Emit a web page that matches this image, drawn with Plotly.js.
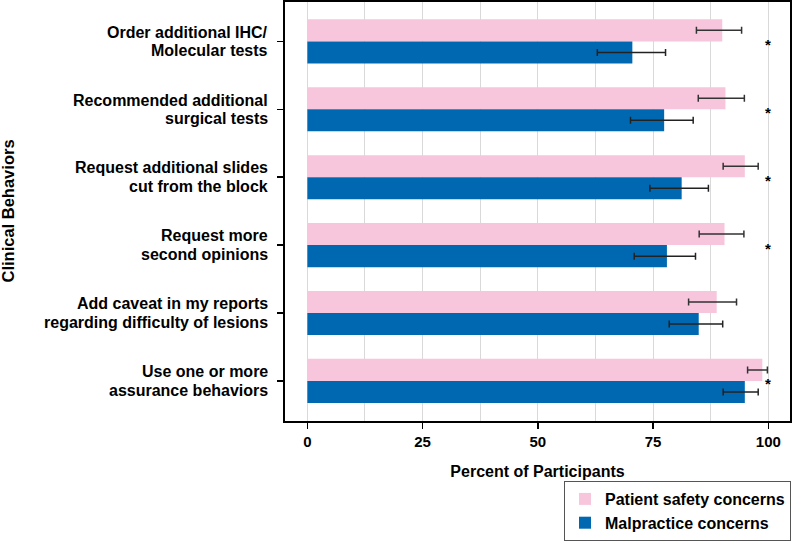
<!DOCTYPE html>
<html>
<head>
<meta charset="utf-8">
<script src="https://cdn.plot.ly/plotly-3.0.1.min.js"></script>
<style>
  html, body { margin: 0; padding: 0; background: #fff; }
  #grafico { width: 792px; height: 542px; }
</style>
</head>
<body>
<div id="grafico"></div>
<script>
// categorias, de cima para baixo
var comportamentos = [
  "Order additional IHC/<br>Molecular tests",
  "Recommended additional<br>surgical tests",
  "Request additional slides<br>cut from the block",
  "Request more<br>second opinions",
  "Add caveat in my reports<br>regarding difficulty of lesions",
  "Use one or more<br>assurance behaviors"
];

// Patient safety concerns (%), com intervalo de confiança
var seguranca = [90.0, 90.7, 94.9, 90.5, 88.8, 98.7];
var segurancaInf = [84.4, 84.8, 90.2, 85.0, 82.7, 95.5];
var segurancaSup = [94.2, 94.8, 97.8, 94.7, 93.1, 99.8];

// Malpractice concerns (%), com intervalo de confiança
var malpratica = [70.5, 77.4, 81.2, 78.0, 84.9, 94.9];
var malpraticaInf = [62.9, 70.1, 74.3, 70.9, 78.5, 90.2];
var malpraticaSup = [77.7, 83.7, 87.0, 84.2, 90.1, 97.8];

// marcador de significância por categoria
var significancia = ["*", "*", "*", "*", "", "*"];

var nomeSeguranca = "Patient safety concerns";
var nomeMalpratica = "Malpractice concerns";

function erroMais(v, sup) {
  return v.map(function (d, i) { return sup[i] - d; });
}
function erroMenos(v, inf) {
  return v.map(function (d, i) { return d - inf[i]; });
}

var fonte = "Liberation Sans, Arial, Helvetica, sans-serif";

var data = [{
  type: 'bar',
  orientation: 'h',
  name: nomeSeguranca,
  y: comportamentos,
  x: seguranca,
  marker: { color: '#f7c6dd' },
  error_x: {
    type: 'data', symmetric: false,
    array: erroMais(seguranca, segurancaSup),
    arrayminus: erroMenos(seguranca, segurancaInf),
    color: '#333333', thickness: 1.5, width: 3.5
  }
}, {
  type: 'bar',
  orientation: 'h',
  name: nomeMalpratica,
  y: comportamentos,
  x: malpratica,
  marker: { color: '#0068b1' },
  error_x: {
    type: 'data', symmetric: false,
    array: erroMais(malpratica, malpraticaSup),
    arrayminus: erroMenos(malpratica, malpraticaInf),
    color: '#222222', thickness: 1.5, width: 3.5
  }
}];

var anotacoes = [];
// rótulos das categorias: uma anotação por linha (entrelinha mais apertada que a do plotly)
var entrelinha = 18.6;
for (var i in comportamentos) {
  var linhas = comportamentos[i].split('<br>');
  for (var j = 0; j < linhas.length; j++) {
    anotacoes.push({
      x: 0, y: comportamentos[i], xref: 'paper', yref: 'y',
      xanchor: 'right', yanchor: 'middle', xshift: -15,
      yshift: ((linhas.length - 1) / 2 - j) * entrelinha,
      text: linhas[j], showarrow: false,
      font: { family: fonte, size: 16, color: '#000', weight: 'bold' }
    });
  }
  if (significancia[i] === "") continue;
  anotacoes.push({
    x: 100, y: comportamentos[i], xref: 'x', yref: 'y',
    text: significancia[i], showarrow: false, yshift: -3,
    font: { family: fonte, size: 15, color: '#000', weight: 'bold' }
  });
}

var layout = {
  width: 792,
  height: 542,
  margin: { l: 285, r: 2, t: 2, b: 121, autoexpand: false },
  paper_bgcolor: '#ffffff',
  plot_bgcolor: '#ffffff',
  barmode: 'group',
  bargap: 0.35,
  bargroupgap: 0,
  showlegend: true,
  font: { family: fonte, color: '#000' },
  xaxis: {
    range: [-4.85, 104.7],
    tickmode: 'array',
    tickvals: [0, 25, 50, 75, 100],
    showgrid: true,
    gridcolor: '#d9d9d9',
    gridwidth: 1,
    minor: { tickvals: [12.5, 37.5, 62.5, 87.5], showgrid: true, gridcolor: '#d9d9d9', gridwidth: 1, ticks: '' },
    zeroline: false,
    showline: true, mirror: true, linecolor: '#000', linewidth: 2,
    ticks: 'outside', ticklen: 6, tickwidth: 1.5, tickcolor: '#000',
    tickfont: { family: fonte, size: 15, weight: 'bold' },
    title: { text: 'Percent of Participants', standoff: 17, font: { family: fonte, size: 16, weight: 'bold' } },
    automargin: false,
    fixedrange: true
  },
  yaxis: {
    type: 'category',
    categoryorder: 'array',
    categoryarray: comportamentos,
    range: [5.59, -0.58],
    showgrid: false,
    zeroline: false,
    showline: true, mirror: true, linecolor: '#000', linewidth: 2,
    ticks: 'outside', ticklen: 6, tickwidth: 1.5, tickcolor: '#000',
    showticklabels: false,
    automargin: false,
    fixedrange: true
  },
  legend: {
    x: 1.002, xanchor: 'right',
    y: (421 - 541) / 419, yanchor: 'bottom',
    bgcolor: '#ffffff',
    bordercolor: '#555555', borderwidth: 1,
    font: { family: fonte, size: 16, weight: 'bold' },
    traceorder: 'normal',
    itemclick: false, itemdoubleclick: false
  },
  annotations: anotacoes.concat([{
    // título do eixo y
    text: 'Clinical Behaviors', textangle: -90,
    xref: 'paper', yref: 'paper', x: 0, y: 0.5,
    xanchor: 'center', yanchor: 'middle', xshift: -278,
    showarrow: false,
    font: { family: fonte, size: 16.5, color: '#000', weight: 'bold' }
  }])
};

Plotly.newPlot('grafico', data, layout, { displayModeBar: false, staticPlot: true });
</script>
</body>
</html>
